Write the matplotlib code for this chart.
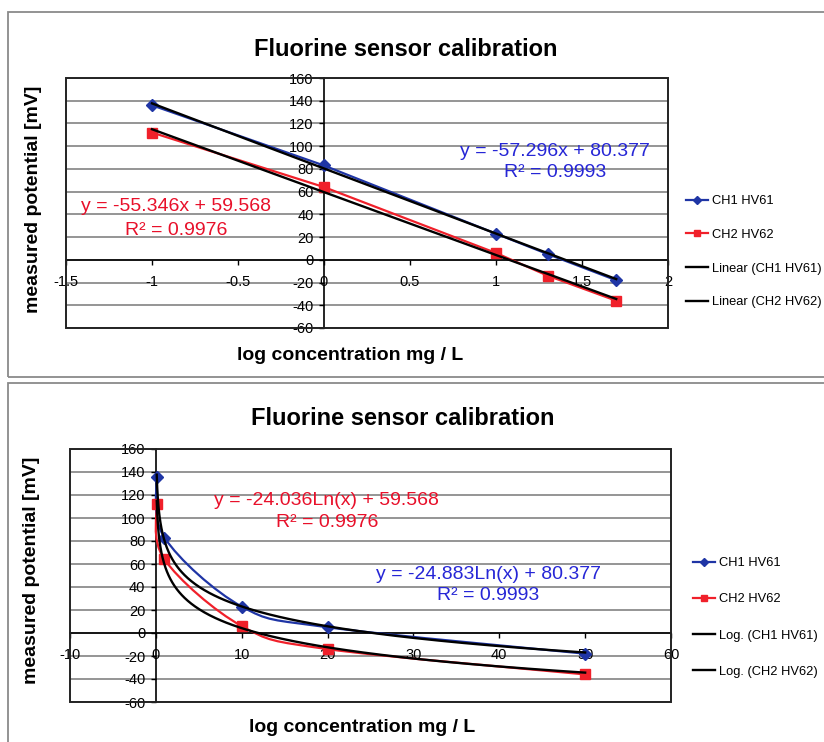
import numpy as np
import matplotlib
matplotlib.use("Agg")
import matplotlib.pyplot as plt
from matplotlib.patches import Rectangle, PathPatch
from matplotlib.path import Path
from matplotlib.lines import Line2D

plt.rcParams['font.family'] = ['Liberation Sans', 'DejaVu Sans']
plt.rcParams['axes.unicode_minus'] = False

# ---- data ----
conc = [0.1, 1, 10, 20, 50]                 # mg/L
log_conc = [-1, 0, 1, 1.301, 1.699]         # log10 concentration
ch1 = [136, 83, 23, 5, -18]                 # CH1 HV61 [mV]
ch2 = [112, 64, 6, -14, -36]                # CH2 HV62 [mV]
lin_ch1 = [-57.296, 80.377]                 # slope, intercept
lin_ch2 = [-55.346, 59.568]
log_ch1 = [-24.883, 80.377]                 # a*ln(x)+b
log_ch2 = [-24.036, 59.568]
r2_ch1 = "0.9993"
r2_ch2 = "0.9976"
yticks = [-60, -40, -20, 0, 20, 40, 60, 80, 100, 120, 140, 160]
xticks_top = [-1.5, -1, -0.5, 0, 0.5, 1, 1.5, 2]
xticklabels_top = ["-1.5", "-1", "-0.5", "0", "0.5", "1", "1.5", "2"]
xticks_bot = [-10, 0, 10, 20, 30, 40, 50, 60]
names = ["CH1 HV61", "CH2 HV62"]

W, H = 824, 742
fig = plt.figure(figsize=(W / 100, H / 100), dpi=100)

BLUE = "#1f35a5"
RED = "#f0202a"
TXT_BLUE = "#2626d6"
TXT_RED = "#e8102a"
GRID = "#8c8c8c"


def px_axes(l, t, r, b):
    return fig.add_axes([l / W, 1 - b / H, (r - l) / W, (b - t) / H])


def style_axes(ax, xlim, xticks, xlabels):
    ax.set_xlim(*xlim)
    ax.set_ylim(-60, 160)
    ax.set_yticks(yticks)
    ax.set_xticks(xticks)
    ax.set_xticklabels(xlabels)
    ax.spines['left'].set_position(('data', 0))
    ax.spines['bottom'].set_position(('data', 0))
    ax.spines['top'].set_visible(False)
    ax.spines['right'].set_visible(False)
    for s in ('left', 'bottom'):
        ax.spines[s].set_color('black')
        ax.spines[s].set_linewidth(1.2)
    ax.add_patch(Rectangle((0, 0), 1, 1, transform=ax.transAxes, fill=False,
                           edgecolor='#222222', lw=1.4, zorder=5, clip_on=False))
    ax.grid(axis='y', color=GRID, lw=1.3)
    ax.set_axisbelow(True)
    ax.xaxis.set_zorder(0.7)
    ax.tick_params(axis='both', direction='out', length=3.5, width=1,
                   labelsize=10.5, colors='black', pad=4)
    ax.tick_params(axis='x', pad=7.5)


def smooth_path(xs, ys):
    verts = [(xs[0], ys[0])]
    codes = [Path.MOVETO]
    n = len(xs)
    for i in range(n - 1):
        p0 = np.array([xs[max(i - 1, 0)], ys[max(i - 1, 0)]], float)
        p1 = np.array([xs[i], ys[i]], float)
        p2 = np.array([xs[i + 1], ys[i + 1]], float)
        p3 = np.array([xs[min(i + 2, n - 1)], ys[min(i + 2, n - 1)]], float)
        c1 = p1 + (p2 - p0) / 6
        c2 = p2 - (p3 - p1) / 6
        verts += [tuple(c1), tuple(c2), tuple(p2)]
        codes += [Path.CURVE4] * 3
    return Path(verts, codes)


# ---- panel borders ----
for (t, b) in [(12, 376.5), (382.5, 800)]:
    fig.add_artist(Rectangle((8 / W, 1 - b / H), (900 - 8) / W, (b - t) / H,
                             transform=fig.transFigure, fill=False,
                             edgecolor='#8a8a8a', lw=1.3))

ANN = 14

# ---- top chart ----
ax1 = px_axes(66, 78, 668, 328)
style_axes(ax1, (-1.5, 2), xticks_top, xticklabels_top)
ax1.plot(log_conc, ch1, color=BLUE, lw=1.6, marker='D', ms=6.5, zorder=3)
ax1.plot(log_conc, ch2, color=RED, lw=1.6, marker='s', ms=7, zorder=3)
xl = np.array([log_conc[0], log_conc[-1]])
ax1.plot(xl, lin_ch1[0] * xl + lin_ch1[1], color='black', lw=1.7, zorder=4)
ax1.plot(xl, lin_ch2[0] * xl + lin_ch2[1], color='black', lw=1.7, zorder=4)
ax1.text(-0.86, 46.6, f"y = {lin_ch2[0]}x + {lin_ch2[1]}", color=TXT_RED,
         fontsize=ANN, ha='center', va='center')
ax1.text(-0.86, 25.5, f"R\u00b2 = {r2_ch2}", color=TXT_RED,
         fontsize=ANN, ha='center', va='center')
ax1.text(1.345, 95, f"y = {lin_ch1[0]}x + {lin_ch1[1]}", color=TXT_BLUE,
         fontsize=ANN, ha='center', va='center')
ax1.text(1.345, 76.8, f"R\u00b2 = {r2_ch1}", color=TXT_BLUE,
         fontsize=ANN, ha='center', va='center')
fig.text(406 / W, 1 - 50 / H, "Fluorine sensor calibration", fontsize=17,
         fontweight='bold', ha='center', va='center')
fig.text(350 / W, 1 - 355 / H, "log concentration mg / L", fontsize=14,
         fontweight='bold', ha='center', va='center')
fig.text(34 / W, 1 - 199 / H, "measured potential [mV]", fontsize=14,
         fontweight='bold', ha='center', va='center', rotation=90)

# ---- bottom chart ----
ax2 = px_axes(70, 449, 671, 702)
style_axes(ax2, (-10, 60), xticks_bot, [str(v) for v in xticks_bot])
ax2.add_patch(PathPatch(smooth_path(conc, ch1), fill=False, edgecolor=BLUE,
                        lw=1.6, zorder=3))
ax2.add_patch(PathPatch(smooth_path(conc, ch2), fill=False, edgecolor=RED,
                        lw=1.6, zorder=3))
ax2.plot(conc, ch1, ls='none', color=BLUE, marker='D', ms=6.5, zorder=3)
ax2.plot(conc, ch2, ls='none', color=RED, marker='s', ms=7, zorder=3)
xc = np.geomspace(conc[0], conc[-1], 300)
ax2.plot(xc, log_ch1[0] * np.log(xc) + log_ch1[1], color='black', lw=1.7, zorder=4)
ax2.plot(xc, log_ch2[0] * np.log(xc) + log_ch2[1], color='black', lw=1.7, zorder=4)
ax2.text(19.9, 114.8, f"y = {log_ch2[0]}Ln(x) + {log_ch2[1]}", color=TXT_RED,
         fontsize=ANN, ha='center', va='center')
ax2.text(19.9, 95.7, f"R\u00b2 = {r2_ch2}", color=TXT_RED,
         fontsize=ANN, ha='center', va='center')
ax2.text(38.7, 51.3, f"y = {log_ch1[0]}Ln(x) + {log_ch1[1]}", color=TXT_BLUE,
         fontsize=ANN, ha='center', va='center')
ax2.text(38.7, 33, f"R\u00b2 = {r2_ch1}", color=TXT_BLUE,
         fontsize=ANN, ha='center', va='center')
fig.text(403 / W, 1 - 418 / H, "Fluorine sensor calibration", fontsize=17,
         fontweight='bold', ha='center', va='center')
fig.text(362 / W, 1 - 727 / H, "log concentration mg / L", fontsize=14,
         fontweight='bold', ha='center', va='center')
fig.text(32 / W, 1 - 570 / H, "measured potential [mV]", fontsize=14,
         fontweight='bold', ha='center', va='center', rotation=90)


# ---- legends ----
def make_legend(prefix, x_anchor, y_top, spacing):
    handles = [
        Line2D([], [], color=BLUE, lw=1.6, marker='D', ms=4),
        Line2D([], [], color=RED, lw=1.6, marker='s', ms=4.5),
        Line2D([], [], color='black', lw=1.7),
        Line2D([], [], color='black', lw=1.7),
    ]
    labels = names + [f"{prefix} ({n})" for n in names]
    fig.legend(handles, labels, loc='upper left',
               bbox_to_anchor=(x_anchor / W, 1 - y_top / H),
               frameon=False, fontsize=9.3, handlelength=1.7,
               handletextpad=0.3, labelspacing=spacing,
               borderpad=0, borderaxespad=0)


make_legend("Linear", 686, 195, 1.68)
make_legend("Log.", 693, 557, 1.88)

fig.savefig("out.png", dpi=100)
